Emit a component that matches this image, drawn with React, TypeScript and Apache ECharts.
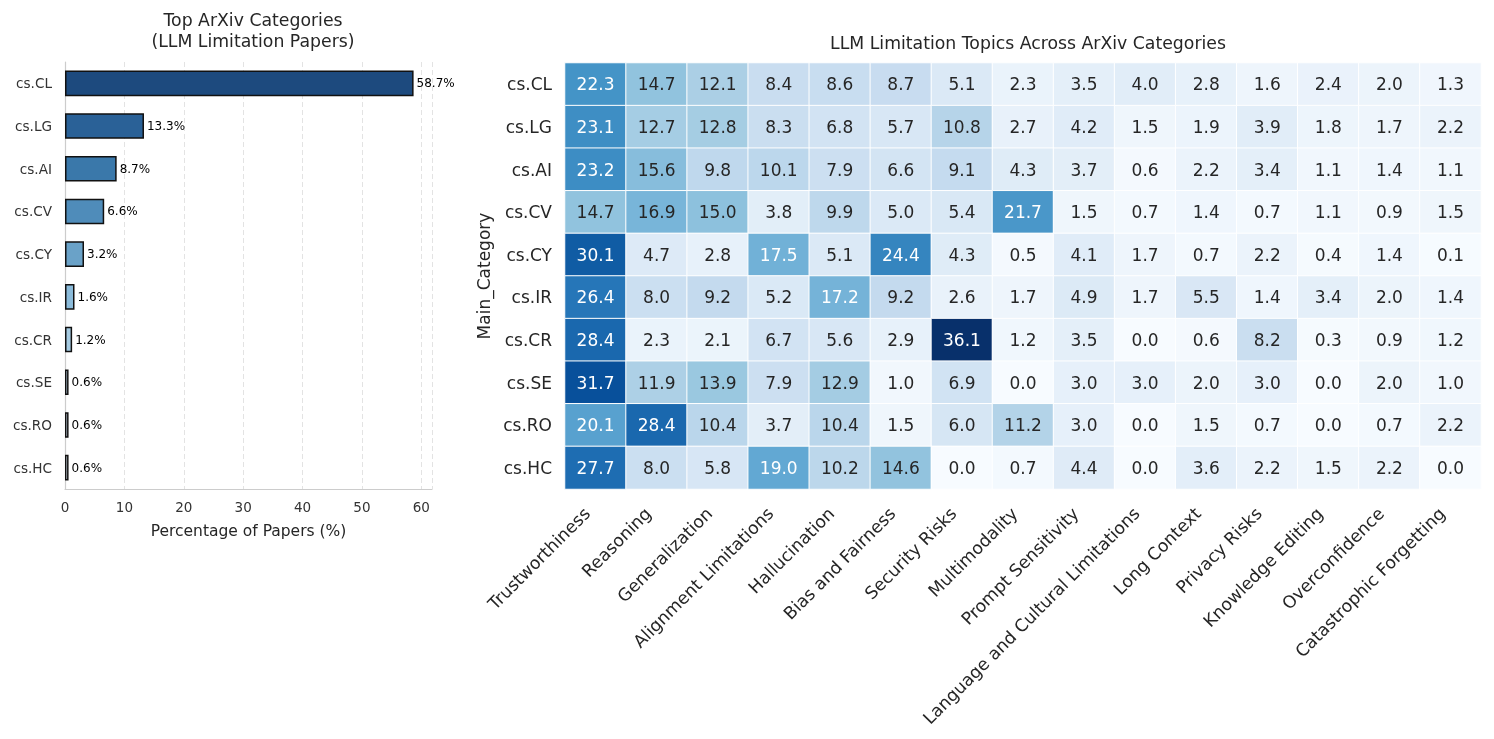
import React, { useEffect, useRef } from "react";
import * as echarts from "echarts";

const barCategories = ["cs.CL", "cs.LG", "cs.AI", "cs.CV", "cs.CY", "cs.IR", "cs.CR", "cs.SE", "cs.RO", "cs.HC"];
const barValues = [58.7, 13.3, 8.7, 6.6, 3.2, 1.6, 1.2, 0.6, 0.6, 0.6];
const barColors = ["#1d4a7e", "#2a6197", "#3a78aa", "#4f8cba", "#6aa2c8", "#8bbbda", "#a6cbe2", "#c3d9ec", "#d8e6f3", "#e3edf7"];
const barTicks = [0, 10, 20, 30, 40, 50, 60];

const topics = [
  "Trustworthiness", "Reasoning", "Generalization", "Alignment Limitations", "Hallucination",
  "Bias and Fairness", "Security Risks", "Multimodality", "Prompt Sensitivity",
  "Language and Cultural Limitations", "Long Context", "Privacy Risks", "Knowledge Editing",
  "Overconfidence", "Catastrophic Forgetting",
];
const rowCategories = ["cs.CL", "cs.LG", "cs.AI", "cs.CV", "cs.CY", "cs.IR", "cs.CR", "cs.SE", "cs.RO", "cs.HC"];
const rowCL = [22.3, 14.7, 12.1, 8.4, 8.6, 8.7, 5.1, 2.3, 3.5, 4.0, 2.8, 1.6, 2.4, 2.0, 1.3];
const rowLG = [23.1, 12.7, 12.8, 8.3, 6.8, 5.7, 10.8, 2.7, 4.2, 1.5, 1.9, 3.9, 1.8, 1.7, 2.2];
const rowAI = [23.2, 15.6, 9.8, 10.1, 7.9, 6.6, 9.1, 4.3, 3.7, 0.6, 2.2, 3.4, 1.1, 1.4, 1.1];
const rowCV = [14.7, 16.9, 15.0, 3.8, 9.9, 5.0, 5.4, 21.7, 1.5, 0.7, 1.4, 0.7, 1.1, 0.9, 1.5];
const rowCY = [30.1, 4.7, 2.8, 17.5, 5.1, 24.4, 4.3, 0.5, 4.1, 1.7, 0.7, 2.2, 0.4, 1.4, 0.1];
const rowIR = [26.4, 8.0, 9.2, 5.2, 17.2, 9.2, 2.6, 1.7, 4.9, 1.7, 5.5, 1.4, 3.4, 2.0, 1.4];
const rowCR = [28.4, 2.3, 2.1, 6.7, 5.6, 2.9, 36.1, 1.2, 3.5, 0.0, 0.6, 8.2, 0.3, 0.9, 1.2];
const rowSE = [31.7, 11.9, 13.9, 7.9, 12.9, 1.0, 6.9, 0.0, 3.0, 3.0, 2.0, 3.0, 0.0, 2.0, 1.0];
const rowRO = [20.1, 28.4, 10.4, 3.7, 10.4, 1.5, 6.0, 11.2, 3.0, 0.0, 1.5, 0.7, 0.0, 0.7, 2.2];
const rowHC = [27.7, 8.0, 5.8, 19.0, 10.2, 14.6, 0.0, 0.7, 4.4, 0.0, 3.6, 2.2, 1.5, 2.2, 0.0];
const heatRows = [rowCL, rowLG, rowAI, rowCV, rowCY, rowIR, rowCR, rowSE, rowRO, rowHC];

const blues = ["#f7fbff", "#deebf7", "#c6dbef", "#9ecae1", "#6baed6", "#4292c6", "#2171b5", "#08519c", "#08306b"];

const FONT = "DejaVu Sans";

export default function App() {
  const ref = useRef<HTMLDivElement>(null);
  useEffect(() => {
    if (!ref.current) return;
    const chart = echarts.init(ref.current, undefined, { renderer: "svg" });
    let vmax = 0;
    heatRows.forEach((r) => r.forEach((v) => { if (v > vmax) vmax = v; }));
    const heatData: any[] = [];
    heatRows.forEach((r, yi) =>
      r.forEach((v, xi) => {
        heatData.push({
          value: [xi, yi, v],
          label: { color: v / vmax > 0.472 ? "#ffffff" : "#262626" },
        });
      })
    );
    chart.setOption({
      animation: false,
      textStyle: { fontFamily: FONT },
      title: [
        {
          text: "Top ArXiv Categories\n(LLM Limitation Papers)",
          left: 248,
          top: 4,
          textAlign: "center",
          textStyle: { fontSize: 17.3, fontWeight: "normal", color: "#262626", lineHeight: 21, fontFamily: FONT },
        },
        {
          text: "LLM Limitation Topics Across ArXiv Categories",
          left: 1023,
          top: 29,
          textAlign: "center",
          textStyle: { fontSize: 17.3, fontWeight: "normal", color: "#262626", fontFamily: FONT },
        },
      ],
      grid: [
        { left: 65, top: 62, width: 367, height: 427 },
        { left: 565, top: 63, width: 916, height: 426 },
      ],
      visualMap: {
        show: false,
        seriesIndex: 1,
        min: 0,
        max: vmax,
        dimension: 2,
        inRange: { color: blues },
      },
      xAxis: [
        {
          gridIndex: 0,
          type: "value",
          min: 0,
          max: 61.8,
          interval: 10,
          axisLine: { show: true, lineStyle: { color: "#cccccc", width: 1.2 } },
          axisTick: { show: false },
          axisLabel: {
            fontSize: 13.5,
            color: "#333333",
            margin: 11,
            formatter: (v: number) => (barTicks.includes(v) ? String(v) : ""),
          },
          splitLine: { show: true, lineStyle: { type: [5, 3], color: "#e3e3e3", width: 1 } },
          name: "Percentage of Papers (%)",
          nameLocation: "middle",
          nameGap: 34,
          nameTextStyle: { fontSize: 15.5, color: "#262626" },
        },
        {
          gridIndex: 1,
          type: "category",
          data: topics,
          axisLine: { show: false },
          axisTick: { show: false },
          splitLine: { show: false },
          axisLabel: {
            interval: 0,
            rotate: 45,
            fontSize: 17.3,
            color: "#262626",
            margin: 13,
            padding: [0, 12, 0, 0],
          },
        },
      ],
      yAxis: [
        {
          gridIndex: 0,
          type: "category",
          data: barCategories,
          inverse: true,
          axisLine: { show: true, lineStyle: { color: "#cccccc", width: 1.2 } },
          axisTick: { show: false },
          axisLabel: { fontSize: 13.6, color: "#333333", margin: 13 },
        },
        {
          gridIndex: 1,
          type: "category",
          data: rowCategories,
          inverse: true,
          axisLine: { show: false },
          axisTick: { show: false },
          axisLabel: { fontSize: 17, color: "#262626", margin: 13 },
          name: "Main_Category",
          nameLocation: "middle",
          nameRotate: 90,
          nameGap: 70,
          nameTextStyle: { fontSize: 17, color: "#262626" },
        },
      ],
      series: [
        {
          type: "bar",
          xAxisIndex: 0,
          yAxisIndex: 0,
          barWidth: "60%",
          data: barValues.map((v, i) => ({
            value: v,
            itemStyle: { color: barColors[i], borderColor: "#111111", borderWidth: 1.5 },
          })),
          label: {
            show: true,
            position: "right",
            distance: 3,
            fontSize: 12,
            color: "#000000",
            formatter: (p: any) => `${p.value.toFixed(1)}%`,
          },
        },
        {
          type: "heatmap",
          xAxisIndex: 1,
          yAxisIndex: 1,
          data: heatData,
          itemStyle: { borderColor: "#ffffff", borderWidth: 1 },
          label: {
            show: true,
            fontSize: 17,
            formatter: (p: any) => p.value[2].toFixed(1),
          },
          emphasis: { disabled: true },
        },
      ],
    });
    return () => chart.dispose();
  }, []);
  return <div ref={ref} style={{ position: "fixed", left: 0, top: 0, width: 1494, height: 739 }} />;
}
